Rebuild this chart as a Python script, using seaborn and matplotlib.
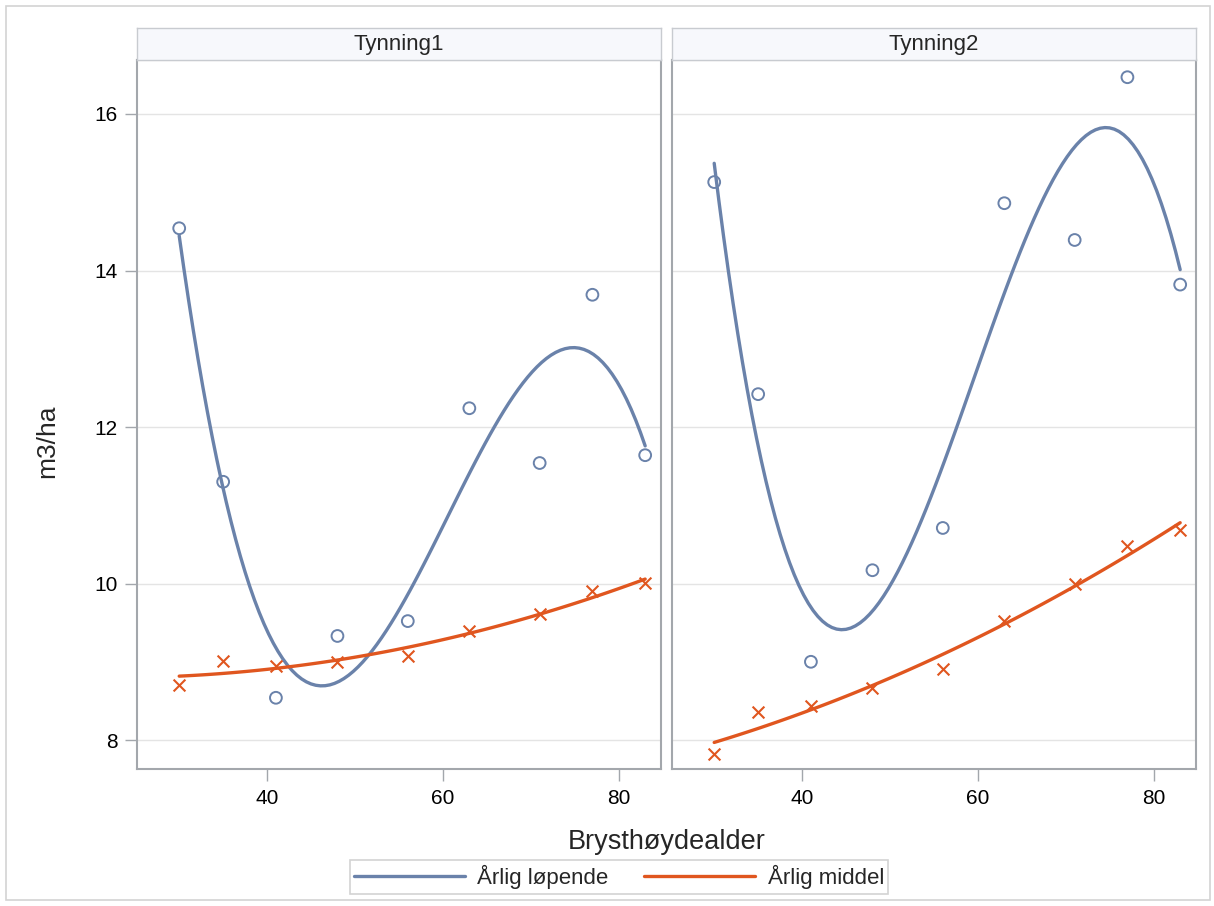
import matplotlib
matplotlib.use("Agg")
import matplotlib.pyplot as plt
from matplotlib.lines import Line2D
from matplotlib.patches import Rectangle
import seaborn as sns

# data
alder = [30, 35, 41, 48, 56, 63, 71, 77, 83]
lopende_t1 = [14.54, 11.30, 8.54, 9.33, 9.52, 12.24, 11.54, 13.69, 11.64]
middel_t1 = [8.70, 9.01, 8.95, 9.00, 9.07, 9.39, 9.61, 9.90, 10.01]
lopende_t2 = [15.13, 12.42, 9.00, 10.17, 10.71, 14.86, 14.39, 16.47, 13.82]
middel_t2 = [7.82, 8.36, 8.43, 8.67, 8.91, 9.52, 10.00, 10.48, 10.69]
panels = ["Tynning1", "Tynning2"]
series_names = ["Årlig løpende", "Årlig middel"]
yticks = [8, 10, 12, 14, 16]
xticks = [40, 60, 80]

BLUE = "#6A82AA"
ORANGE = "#E0561F"
GRID = "#E4E4E4"
FRAME = "#A3A7AC"

sns.set_theme(style="white")
plt.rcParams["font.family"] = ["Liberation Sans", "DejaVu Sans"]

W, H = 1214, 906
fig = plt.figure(figsize=(W / 100, H / 100), dpi=100)

# outer graph border
fig.patches.append(Rectangle((6 / W, 6 / H), (W - 10) / W, (H - 12) / H,
                             transform=fig.transFigure, fill=False,
                             edgecolor="#D3D3D3", lw=1.2))

ax_bottom, ax_top = 1 - 769 / H, 1 - 60 / H
strip_top = 1 - 28 / H
lefts = [137 / W, 672 / W]
width = 524 / W

data = [(lopende_t1, middel_t1), (lopende_t2, middel_t2)]
for i, (name, (lop, mid)) in enumerate(zip(panels, data)):
    ax = fig.add_axes([lefts[i], ax_bottom, width, ax_top - ax_bottom])
    for y in yticks:
        ax.axhline(y, color=GRID, lw=1, zorder=0)
    sns.regplot(x=alder, y=lop, order=3, ci=None, ax=ax, color=BLUE,
                marker="o",
                scatter_kws=dict(facecolors="none", s=72,
                                 linewidths=1.4, alpha=1, zorder=3),
                line_kws=dict(lw=2.4, zorder=2))
    sns.regplot(x=alder, y=mid, order=2, ci=None, ax=ax, color=ORANGE,
                marker="x",
                scatter_kws=dict(s=72, linewidths=1.5, alpha=1, zorder=3),
                line_kws=dict(lw=2.4, zorder=2))
    ax.set_xlim(25.2, 84.8)
    ax.set_ylim(7.63, 16.69)
    ax.set_xticks(xticks)
    ax.set_yticks(yticks)
    ax.tick_params(axis="both", direction="out", length=8.5, width=1,
                   color=FRAME, labelsize=15, labelcolor="black",
                   bottom=True, left=(i == 0))
    ax.tick_params(axis="x", pad=6)
    ax.tick_params(axis="y", pad=5.5)
    if i > 0:
        ax.set_yticklabels([])
    for sp in ax.spines.values():
        sp.set_color(FRAME)
        sp.set_linewidth(1.5)
    ax.set_xlabel("")
    ax.set_ylabel("")

    # facet header strip
    sax = fig.add_axes([lefts[i], ax_top, width, strip_top - ax_top])
    sax.set_facecolor("#F7F8FC")
    sax.set_xticks([])
    sax.set_yticks([])
    for sp in sax.spines.values():
        sp.set_color("#C8CBD0")
        sp.set_linewidth(1)
    sax.text(0.5, 0.48, name, ha="center", va="center", fontsize=16,
             transform=sax.transAxes)

fig.text((137 + 1196) / 2 / W, 1 - 842 / H, "Brysthøydealder",
         ha="center", va="center", fontsize=19.5)
fig.text(47 / W, 1 - 441 / H, "m3/ha", ha="center", va="center",
         rotation=90, fontsize=19)

handles = [Line2D([], [], color=BLUE, lw=2.4),
           Line2D([], [], color=ORANGE, lw=2.4)]
leg = fig.legend(handles, series_names, loc="center", ncol=2,
                 bbox_to_anchor=(619 / W, 1 - 877 / H), fontsize=16,
                 frameon=True, fancybox=False, handlelength=5.0,
                 columnspacing=1.6, handletextpad=0.55, borderpad=0.2,
                 borderaxespad=0)
leg.get_frame().set_edgecolor("#C8C8C8")
leg.get_frame().set_linewidth(1.2)

fig.savefig("out.png", dpi=100)
